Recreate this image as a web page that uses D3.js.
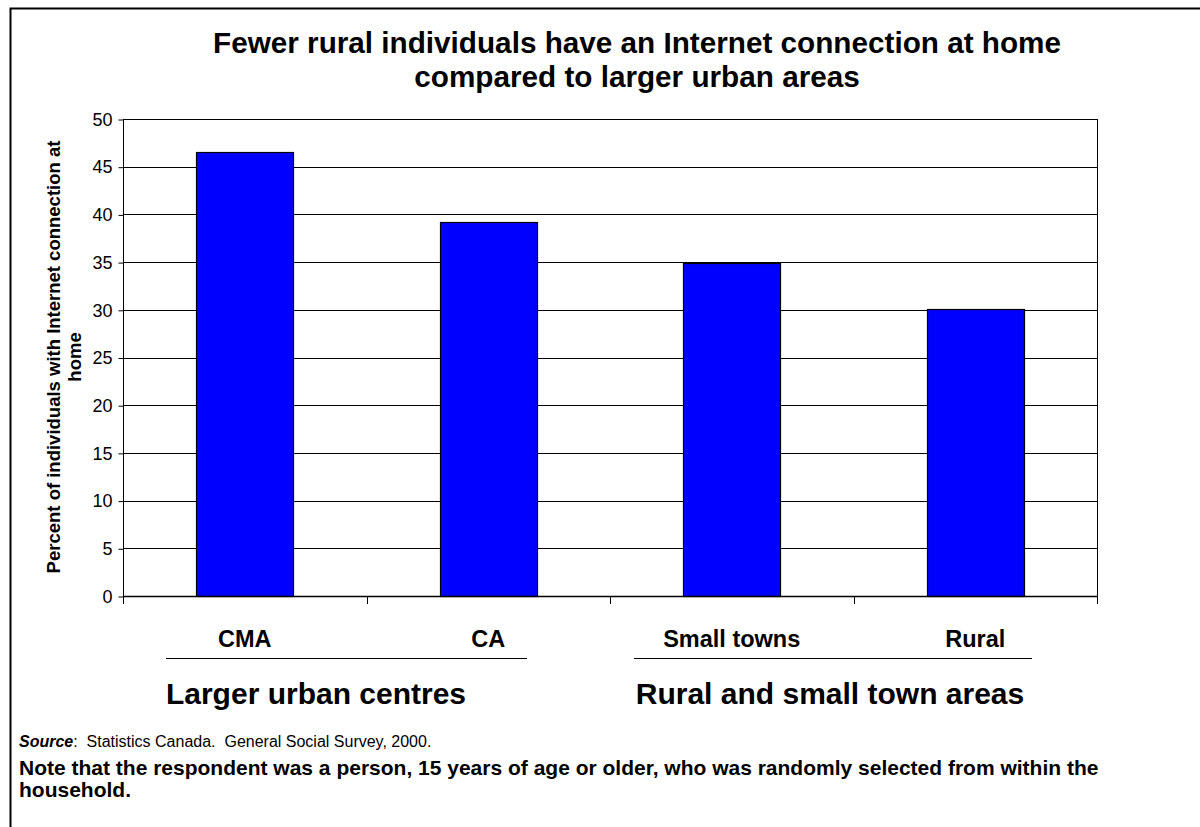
<!DOCTYPE html>
<html><head><meta charset="utf-8">
<script src="https://cdn.jsdelivr.net/npm/d3@7"></script>
<style>body{margin:0;background:#fff}svg{display:block;font-family:"Liberation Sans",Arial,sans-serif}</style>
</head><body>
<svg id="c" width="1200" height="827"></svg>
<script>
const categories = ["CMA", "CA", "Small towns", "Rural"];
const values = [46.5, 39.2, 34.9, 30.1];
const yTicks = [0, 5, 10, 15, 20, 25, 30, 35, 40, 45, 50];
const groups = ["Larger urban centres", "Rural and small town areas"];
const titleLines = ["Fewer rural individuals have an Internet connection at home", "compared to larger urban areas"];
const yLabelLines = ["Percent of individuals with Internet connection at", "home"];

const svg = d3.select("#c");
const L = 123, R = 1097, T = 119, B = 596;

// outer frame
svg.append("path").attr("d", "M10.5,827 V8.5 H1200").attr("fill", "none").attr("stroke", "#000").attr("stroke-width", 2);

const x = d3.scaleBand().domain(categories).range([L, R]).paddingInner(0.6).paddingOuter(0.3);
const y = d3.scaleLinear().domain([0, 50]).range([B, T]);

// grid
svg.append("g").selectAll("line").data(yTicks.slice(1)).join("line")
  .attr("x1", L).attr("x2", R).attr("y1", d => Math.round(y(d)) + 0.5).attr("y2", d => Math.round(y(d)) + 0.5)
  .attr("stroke", "#000").attr("stroke-width", 1);
// right frame of plot
svg.append("line").attr("x1", R + 0.5).attr("x2", R + 0.5).attr("y1", T).attr("y2", B).attr("stroke", "#000");

// bars
svg.append("g").selectAll("rect").data(values).join("rect")
  .attr("x", (d, i) => Math.round(x(categories[i])) + 0.5)
  .attr("width", Math.round(x.bandwidth()))
  .attr("y", d => Math.round(y(d)) + 0.5)
  .attr("height", d => Math.round(y(0)) - Math.round(y(d)))
  .attr("fill", "#0000ff").attr("stroke", "#000").attr("stroke-width", 1.2);

// y axis
const yAxis = d3.axisLeft(y).tickValues(yTicks).tickSize(5).tickPadding(6).tickFormat(d3.format("d"));
const gy = svg.append("g").attr("transform", `translate(${L + 0.5},0.5)`).call(yAxis);
gy.select(".domain").attr("d", `M0,${T}V${B}`).attr("stroke", "#000");
gy.selectAll(".tick line").attr("stroke", "#000");
gy.selectAll("text").attr("font-size", 18).attr("fill", "#000").attr("font-family", "Liberation Sans, Arial, sans-serif");

// x axis baseline and ticks at band boundaries
svg.append("line").attr("x1", L).attr("x2", R).attr("y1", B + 0.5).attr("y2", B + 0.5).attr("stroke", "#000").attr("stroke-width", 1.5);
const bounds = categories.map(c => x(c) - x.step() * x.paddingInner() / 2).concat([R]);
bounds[0] = L;
svg.append("g").selectAll("line").data(bounds).join("line")
  .attr("x1", d => Math.round(d) + 0.5).attr("x2", d => Math.round(d) + 0.5)
  .attr("y1", B).attr("y2", B + 8).attr("stroke", "#000");

// category labels
svg.append("g").selectAll("text").data(categories).join("text")
  .attr("x", d => x(d) + x.bandwidth() / 2).attr("y", 647)
  .attr("text-anchor", "middle").attr("font-weight", "bold").attr("font-size", 23.5).text(d => d);

// group underlines
const uls = [[166, 527], [634, 1032]];
svg.append("g").selectAll("line").data(uls).join("line")
  .attr("x1", d => d[0]).attr("x2", d => d[1]).attr("y1", 658.5).attr("y2", 658.5).attr("stroke", "#000");
// group labels
const gx = [316, 830];
svg.append("g").selectAll("text").data(groups).join("text")
  .attr("x", (d, i) => gx[i]).attr("y", 704).attr("text-anchor", "middle")
  .attr("font-weight", "bold").attr("font-size", 30).text(d => d);

// title
svg.append("g").selectAll("text").data(titleLines).join("text")
  .attr("x", 637).attr("y", (d, i) => 53 + i * 34).attr("text-anchor", "middle")
  .attr("font-weight", "bold").attr("font-size", 29.7).text(d => d);

// y label
svg.append("g").selectAll("text").data(yLabelLines).join("text")
  .attr("transform", (d, i) => `translate(${60 + i * 21},357) rotate(-90)`)
  .attr("text-anchor", "middle").attr("font-weight", "bold").attr("font-size", 18.5).text(d => d);

// source
const src = svg.append("text").attr("x", 19).attr("y", 747).attr("font-size", 16);
src.append("tspan").attr("font-weight", "bold").attr("font-style", "italic").text("Source");
src.append("tspan").style("white-space", "pre").text(":  Statistics Canada.  General Social Survey, 2000.");

const notes = ["Note that the respondent was a person, 15 years of age or older, who was randomly selected from within the", "household."];
svg.append("g").selectAll("text").data(notes).join("text")
  .attr("x", 19).attr("y", (d, i) => 775 + i * 22).attr("font-weight", "bold").attr("font-size", 21).text(d => d);
</script>
</body></html>
